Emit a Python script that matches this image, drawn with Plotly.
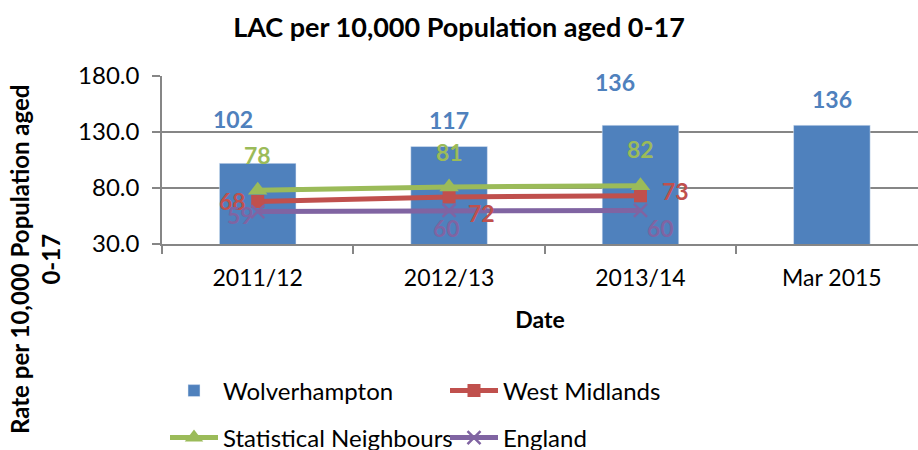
import plotly.graph_objects as go

categories = ["2011/12", "2012/13", "2013/14", "Mar 2015"]
wolverhampton = [102, 117, 136, 136]
west_midlands = [68, 72, 73]
stat_neighbours = [78, 81, 82]
england = [59, 60, 60]
y_ticks = [30, 80, 130, 180]

BLUE = "#4F81BD"
RED = "#C0504D"
GREEN = "#9BBB59"
PURPLE = "#8064A2"
GRID = "#868686"
FONT = "Lato, 'Open Sans', sans-serif"

fig = go.Figure()
fig.add_trace(go.Bar(x=categories, y=wolverhampton, name="Wolverhampton",
                     marker=dict(color=BLUE), width=0.4, legend="legend"))
fig.add_trace(go.Scatter(x=categories[:3], y=west_midlands, name="West Midlands",
                         mode="lines+markers", line=dict(color=RED, width=5),
                         marker=dict(symbol="square", size=13, color=RED), legend="legend"))
fig.add_trace(go.Scatter(x=categories[:3], y=stat_neighbours, name="Statistical Neighbours",
                         mode="lines+markers", line=dict(color=GREEN, width=5),
                         marker=dict(symbol="triangle-up", size=17, color=GREEN), legend="legend2"))
fig.add_trace(go.Scatter(x=categories[:3], y=england, name="England",
                         mode="lines+markers", line=dict(color=PURPLE, width=5),
                         marker=dict(symbol="x-thin", size=13, color=PURPLE,
                                     line=dict(color=PURPLE, width=2.5)), legend="legend2"))

# data label offsets (px)
bar_shift = [(-25, 44), (0, 27), (-25, 43), (0, 26)]
wm_shift = [(-25, 0), (32, -16), (35, 5)]
sn_shift = [(0, 35), (0, 35), (0, 37)]
en_shift = [(-17, -3), (-3, -18), (20, -18)]

def add_labels(xs, ys, shifts, color):
    for xv, yv, (dx, dy) in zip(xs, ys, shifts):
        fig.add_annotation(x=xv, y=yv, text=f"<b>{yv}</b>", showarrow=False,
                           xshift=dx, yshift=dy, xanchor="center", yanchor="middle",
                           font=dict(family=FONT, size=23, color=color))

add_labels(categories, wolverhampton, bar_shift, BLUE)
add_labels(categories[:3], west_midlands, wm_shift, RED)
add_labels(categories[:3], stat_neighbours, sn_shift, GREEN)
add_labels(categories[:3], england, en_shift, PURPLE)

# y-axis title
fig.add_annotation(xref="paper", yref="paper", x=0, y=-0.095, xshift=-127,
                   text="<b>Rate per 10,000 Population aged<br>0-17</b>",
                   textangle=-90, showarrow=False, xanchor="center", yanchor="middle",
                   font=dict(family=FONT, size=24, color="black"))

legend_common = dict(orientation="h", xref="container", yref="container",
                     xanchor="left", yanchor="middle", entrywidth=217,
                     font=dict(family=FONT, size=24, color="black"),
                     bgcolor="rgba(0,0,0,0)", itemwidth=48)

fig.update_layout(
    width=918, height=450,
    margin=dict(l=162, r=0, t=76, b=206, autoexpand=False),
    paper_bgcolor="white", plot_bgcolor="white",
    font=dict(family=FONT, color="black"),
    title=dict(text="<b>LAC per 10,000 Population aged 0-17</b>",
               x=0.5, xref="container", xanchor="center",
               y=1 - 28 / 450, yref="container", yanchor="middle",
               font=dict(family=FONT, size=27, color="black")),
    showlegend=True,
    legend=dict(x=165 / 918, y=1 - 391 / 450, **legend_common),
    legend2=dict(x=165 / 918, y=1 - 438 / 450, **legend_common),
    xaxis=dict(type="category", range=[-0.5, 3.45], showgrid=False,
               showline=True, linecolor=GRID, linewidth=1.5,
               ticks="outside", tickson="boundaries", ticklen=8, tickcolor=GRID, tickwidth=1.5,
               ticklabelstandoff=13,
               tickfont=dict(family=FONT, size=23, color="black"),
               title=dict(text="<b>Date</b>", standoff=22,
                          font=dict(family=FONT, size=23, color="black"))),
    yaxis=dict(range=[30, 180], tickvals=y_ticks, tickformat=".1f",
               showgrid=True, gridcolor=GRID, gridwidth=1.5,
               showline=True, linecolor=GRID, linewidth=1.5,
               ticks="outside", ticklen=8, tickcolor=GRID, tickwidth=1.5,
               ticklabelstandoff=8, zeroline=False,
               tickfont=dict(family=FONT, size=24, color="black")),
)

fig.write_html("out.html", config={"displayModeBar": False},
               post_script="document.body.style.margin='0';document.body.style.overflow='hidden';")
